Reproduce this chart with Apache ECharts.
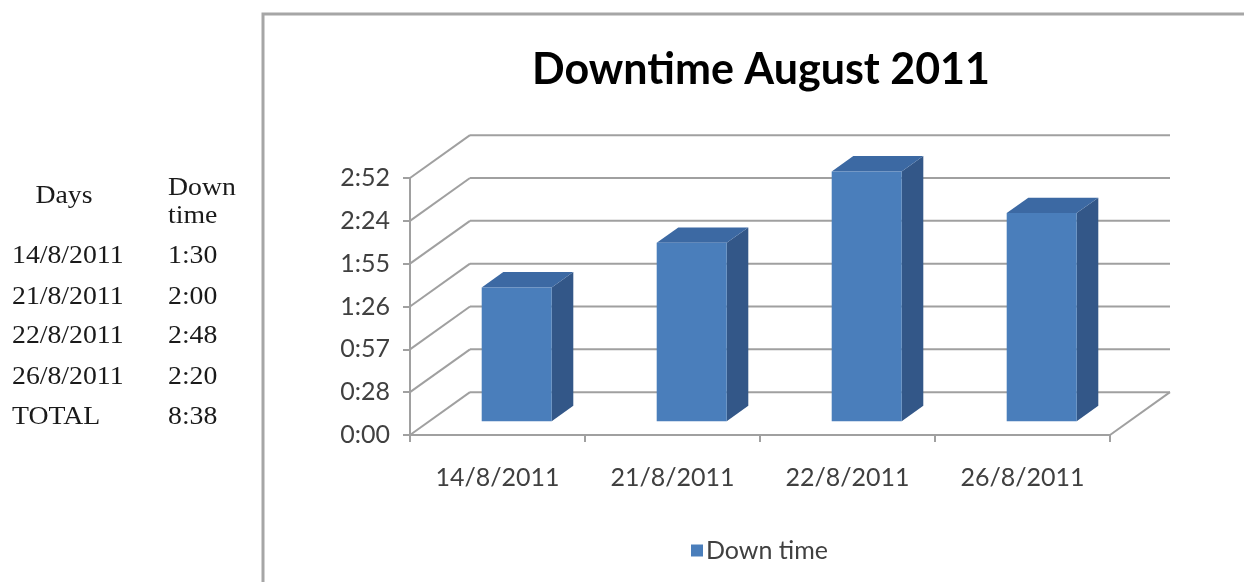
<!DOCTYPE html>
<html>
<head>
<meta charset="utf-8">
<title>Downtime August 2011</title>
<script src="https://cdn.jsdelivr.net/npm/echarts@6/dist/echarts.min.js"></script>
<style>
  html, body { margin: 0; padding: 0; background: #fff; }
  #chart { width: 1244px; height: 582px; }
</style>
</head>
<body>
<div id="chart"></div>
<script>
// data
var categories = ['14/8/2011', '21/8/2011', '22/8/2011', '26/8/2011'];
var downtime = ['1:30', '2:00', '2:48', '2:20'];
var totalLabel = 'TOTAL';
var totalValue = '8:38';
var yTickLabels = ['0:00', '0:28', '0:57', '1:26', '1:55', '2:24', '2:52'];
var yStep = 1728; // seconds between ticks (Excel picked 0.02 day)

function toSeconds(s) {
  var p = s.split(':');
  return (+p[0]) * 3600 + (+p[1]) * 60;
}
var seconds = downtime.map(toSeconds);

var DX = 60;            // depth offset, px
var FRONT = 0.32, BACK = 0.68;   // bar depth inside the box
var gridColor = '#a0a0a0';

var chart = echarts.init(document.getElementById('chart'), null, { renderer: 'canvas' });

// left side table, as plain text
var tableTexts = [
  { text: 'Days', x: 64, y: 196, align: 'center' },
  { text: 'Down', x: 168, y: 188 },
  { text: 'time', x: 168, y: 216 }
];
var rowY = [256, 297, 336, 377, 417];
categories.forEach(function (c, i) {
  tableTexts.push({ text: c, x: 12, y: rowY[i] });
  tableTexts.push({ text: downtime[i], x: 168, y: rowY[i] });
});
tableTexts.push({ text: totalLabel, x: 12, y: rowY[4] });
tableTexts.push({ text: totalValue, x: 168, y: rowY[4] });

var graphics = [{
  type: 'rect',
  shape: { x: 263, y: 14, width: 1100, height: 700 },
  style: { fill: 'none', stroke: '#a6a6a6', lineWidth: 3 },
  z: -10
}];
tableTexts.forEach(function (t) {
  graphics.push({
    type: 'text',
    x: t.x, y: t.y,
    scaleX: 1.11,
    style: {
      text: t.text,
      fill: '#1a1a1a',
      font: '25px "Liberation Serif"',
      textAlign: t.align || 'left',
      textVerticalAlign: 'middle'
    }
  });
});

function wallItem(params, api) {
  var sys = params.coordSys;
  var y = api.coord([0, api.value(1)])[1];
  var DY = -api.size([0, yStep])[1];
  var style = { stroke: gridColor, lineWidth: 2 };
  var kids = [
    { type: 'line', shape: { x1: sys.x, y1: y, x2: sys.x + DX, y2: y + DY }, style: style },
    { type: 'line', shape: { x1: sys.x + DX, y1: y + DY, x2: sys.x + sys.width + DX, y2: y + DY }, style: style }
  ];
  if (params.dataIndex === 0) {
    kids.push({ type: 'line', shape: { x1: sys.x + sys.width, y1: y, x2: sys.x + sys.width + DX, y2: y + DY }, style: style });
  }
  return { type: 'group', children: kids };
}

function barItem(params, api) {
  var idx = api.value(0);
  var p0 = api.coord([idx, 0]);
  var p1 = api.coord([idx, api.value(1)]);
  var DY = -api.size([0, yStep])[1];
  var w = api.size([1, 0])[0] * 0.4;
  var xL = p0[0] - w / 2 + DX * FRONT;
  var xR = xL + w;
  var yB = p0[1] + DY * FRONT;
  var yT = p1[1] + DY * FRONT;
  var ddx = DX * (BACK - FRONT), ddy = DY * (BACK - FRONT);
  return {
    type: 'group',
    children: [
      { type: 'polygon', shape: { points: [[xR, yT], [xR + ddx, yT + ddy], [xR + ddx, yB + ddy], [xR, yB]] },
        style: { fill: '#335788' } },
      { type: 'polygon', shape: { points: [[xL, yT], [xR, yT], [xR + ddx, yT + ddy], [xL + ddx, yT + ddy]] },
        style: { fill: '#3c69a3' } },
      { type: 'rect', shape: { x: xL, y: yT, width: w, height: yB - yT },
        style: { fill: '#4a7ebb' } }
    ]
  };
}

var option = {
  animation: false,
  title: {
    text: 'Downtime August 2011',
    left: 756,
    top: 44,
    textAlign: 'center',
    textStyle: { fontFamily: 'Lato', fontWeight: 'bold', fontSize: 43, color: '#000' }
  },
  legend: {
    left: 691,
    top: 538,
    padding: 0,
    itemWidth: 12,
    itemHeight: 12,
    itemGap: 6,
    data: [{ name: 'Down time', icon: 'rect' }],
    textStyle: { fontFamily: 'Lato', fontSize: 25, color: '#404040', padding: [0, 0, 0, -2] }
  },
  grid: { left: 410, top: 178, width: 700, height: 257, containLabel: false },
  xAxis: {
    type: 'category',
    data: categories,
    axisLine: { lineStyle: { color: gridColor, width: 2 } },
    axisTick: { show: true, length: 7, lineStyle: { color: gridColor, width: 2 } },
    axisLabel: { fontFamily: 'Lato', fontSize: 25, color: '#404040', margin: 30 }
  },
  yAxis: {
    type: 'value',
    min: 0,
    max: yStep * (yTickLabels.length - 1),
    interval: yStep,
    axisLine: { show: true, lineStyle: { color: gridColor, width: 2 } },
    axisTick: { show: true, length: 7, lineStyle: { color: gridColor, width: 2 } },
    splitLine: { show: false },
    axisLabel: {
      fontFamily: 'Lato', fontSize: 25, color: '#404040', margin: 20,
      formatter: function (v, i) { return yTickLabels[i]; }
    }
  },
  graphic: graphics,
  series: [
    {
      name: 'walls',
      type: 'custom',
      z: 1,
      silent: true,
      renderItem: wallItem,
      data: yTickLabels.map(function (_, i) { return [0, i * yStep]; })
    },
    {
      name: 'Down time',
      type: 'custom',
      z: 5,
      itemStyle: { color: '#4a7ebb' },
      renderItem: barItem,
      encode: { x: 0, y: 1 },
      data: categories.map(function (c, i) { return [i, seconds[i]]; })
    }
  ]
};

option && chart.setOption(option);
</script>
</body>
</html>
